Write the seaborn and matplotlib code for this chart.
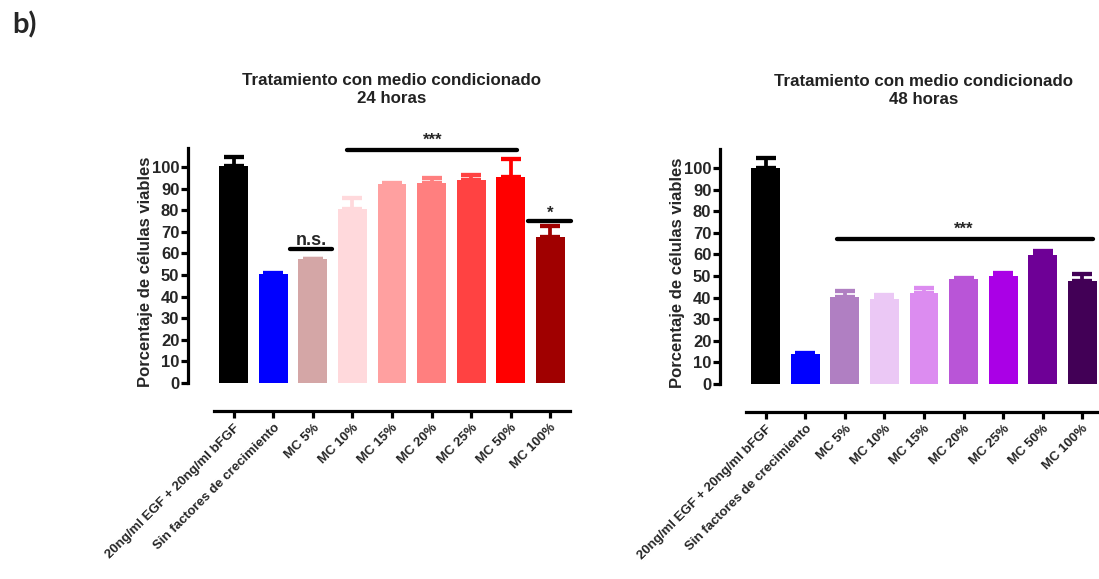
import matplotlib
matplotlib.use("Agg")
import matplotlib.pyplot as plt
import numpy as np
import pandas as pd
import seaborn as sns

# Conditions on the x axis
categories = [
    "20ng/ml EGF + 20ng/ml bFGF",
    "Sin factores de crecimiento",
    "MC 5%", "MC 10%", "MC 15%", "MC 20%", "MC 25%", "MC 50%", "MC 100%",
]

# Viability (%) and upper error for each time point
viab_24h = [100.5, 50.3, 57.2, 80.6, 92.2, 92.6, 94.0, 95.2, 67.7]
err_24h = [4.0, 0.8, 0.4, 5.0, 0.4, 2.2, 2.5, 8.5, 5.0]
viab_48h = [100.0, 13.7, 40.3, 39.5, 42.2, 48.5, 50.0, 59.8, 47.7]
err_48h = [4.6, 0.8, 2.7, 1.5, 2.3, 0.6, 1.5, 1.9, 3.3]

colors_24h = ["#000000", "#0000ff", "#d4a6a6", "#ffd9dc", "#ffa0a0",
              "#ff7f7f", "#ff4242", "#ff0000", "#a00000"]
colors_48h = ["#000000", "#0000ff", "#b07fc2", "#ebc8f5", "#dc8cf0",
              "#b955d7", "#aa00e6", "#6e0096", "#420056"]

titles = ["Tratamiento con medio condicionado\n24 horas",
          "Tratamiento con medio condicionado\n48 horas"]
yticks = list(range(0, 101, 10))

sns.set_style("ticks")
plt.rcParams["font.family"] = ["Liberation Sans", "DejaVu Sans"]
plt.rcParams["font.weight"] = "bold"

W, H = 1099, 579
fig = plt.figure(figsize=(W / 100, H / 100), dpi=100)
fig.patch.set_facecolor("white")

YTOP = 120.0
PX_PER_UNIT = 2.16
AX_H = YTOP * PX_PER_UNIT


def make_axes(x0, x1, y0):
    return fig.add_axes([x0 / W, 1 - y0 / H, (x1 - x0) / W, AX_H / H])


ax1 = make_axes(214, 570, 383)
ax2 = make_axes(746, 1102, 384)

LW = 2.3

for ax, vals, errs, cols, title in [
    (ax1, viab_24h, err_24h, colors_24h, titles[0]),
    (ax2, viab_48h, err_48h, colors_48h, titles[1]),
]:
    df = pd.DataFrame({"cond": categories, "val": vals})
    sns.barplot(data=df, x="cond", y="val", hue="cond", order=categories,
                hue_order=categories, palette=cols, legend=False,
                width=0.73, saturation=1, errorbar=None, linewidth=0, ax=ax)
    for i, (v, e, c) in enumerate(zip(vals, errs, cols)):
        ax.errorbar(i, v, yerr=[[0], [e]], color=c, lw=LW + 0.4, capsize=7,
                    capthick=LW + 0.8, zorder=1)
    ax.set_xlim(-0.5, 8.5)
    ax.set_ylim(0, YTOP)
    ax.set_facecolor("none")
    sns.despine(ax=ax)
    ax.spines["left"].set_position(("outward", 19))
    ax.spines["bottom"].set_position(("outward", 20))
    ax.spines["left"].set_bounds(0, 108.8)
    ax.spines["bottom"].set_bounds(-0.5, 8.5)
    for s in ("left", "bottom"):
        ax.spines[s].set_linewidth(LW)
        ax.spines[s].set_color("black")
    ax.set_yticks(yticks)
    ax.set_yticklabels([str(t) for t in yticks], fontsize=12, fontweight="bold")
    ax.set_xticks(range(len(categories)))
    ax.set_xticklabels(categories, rotation=45, ha="right",
                       rotation_mode="anchor", fontsize=9.5, fontweight="bold")
    ax.tick_params(axis="both", width=LW, length=5, color="black")
    ax.tick_params(axis="y", pad=1)
    ax.tick_params(axis="x", pad=3)
    ax.set_xlabel("")
    ax.set_ylabel("Porcentaje de células viables", fontsize=12, fontweight="bold")
    ax.yaxis.set_label_coords(-0.172, 0.43)
    ax.text(0.5, (383 - 106) / AX_H, title, transform=ax.transAxes,
            ha="center", va="bottom", fontsize=12.2, fontweight="bold",
            linespacing=1.25, color="#222222")


def bracket(ax, x0, x1, y, label, ty, size, tx=None):
    ax.plot([x0, x1], [y, y], color="black", lw=LW + 0.8,
            solid_capstyle="round", clip_on=False)
    ax.text((x0 + x1) / 2 if tx is None else tx, ty, label, ha="center",
            va="baseline", fontsize=size, fontweight="bold", clip_on=False)


# 24 h significance marks
bracket(ax1, 1.42, 2.48, 62.0, "n.s.", 63.8, 13)
bracket(ax1, 2.86, 7.15, 108.0, "***", 110.5, 12, tx=5.03)
bracket(ax1, 7.43, 8.52, 75.0, "*", 76.5, 12, tx=8.0)

# 48 h significance marks
bracket(ax2, 1.80, 8.28, 67.3, "***", 69.5, 12, tx=5.0)

fig.text(12 / W, 1 - 33 / H, "b)", fontsize=21, fontweight="bold",
         family=["Lato", "DejaVu Sans"], ha="left", va="baseline")

fig.savefig("out.png", dpi=100, facecolor="white")
